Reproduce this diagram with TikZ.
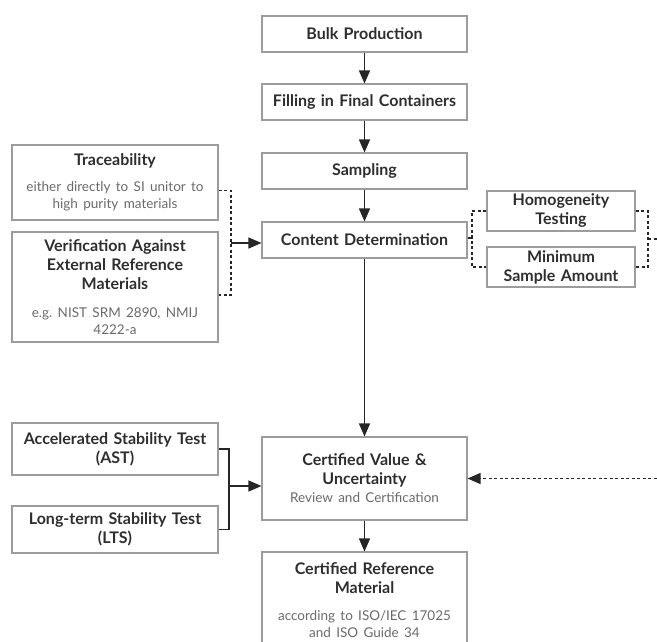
\documentclass[tikz,border=0pt]{standalone}
\usepackage{fontspec}
\setmainfont{Lato}
\usetikzlibrary{arrows.meta}
\definecolor{boxgray}{HTML}{9C9C9C}
\definecolor{titlegray}{HTML}{2E2E2E}
\definecolor{notegray}{HTML}{6A6A6A}
\newcommand{\notetext}[1]{{\fontsize{13.5}{17}\selectfont\mdseries\color{notegray}#1}}
\frenchspacing
\begin{document}
\begin{tikzpicture}[x=1pt, y=-1pt,
    box/.style={draw=boxgray, line width=1.1pt, minimum width=205pt, text width=200pt,
      align=center, inner sep=0pt, text=titlegray, font=\fontsize{16}{19}\selectfont\bfseries},
    link/.style={line width=1.4pt, draw=black!85},
    tip/.style={-{Triangle[length=13pt, width=11pt]}},
    dashline/.style={dash pattern=on 3pt off 2.5pt}]
  \useasboundingbox (0,0) rectangle (657,641);
  % main column
  \node[box, minimum height=36pt] (bulk) at (364.5,34) {Bulk Production};
  \node[box, minimum height=36pt] (fill) at (364.5,102) {Filling in Final Containers};
  \node[box, minimum height=36pt] (samp) at (364.5,171) {Sampling};
  \node[box, minimum height=36pt] (cont) at (364.5,240) {Content Determination};
  \node[box, minimum height=83pt] (cert) at (364.5,478.5)
    {Certified Value \&\\Uncertainty\\[-1pt]\notetext{Review and Certification}};
  \node[box, minimum height=96pt] (crm) at (364.5,600)
    {Certified Reference\\Material\\[8pt]\notetext{according to ISO/IEC 17025}\\[-2pt]\notetext{and ISO Guide 34}};
  % left inputs
  \node[box, minimum width=206pt, minimum height=75pt] (trace) at (115,182.5)
    {Traceability\\[7pt]\notetext{either directly to SI unitor to}\\[-2pt]\notetext{high purity materials}};
  \node[box, minimum width=206pt, minimum height=110pt] (verif) at (115,287)
    {Verification Against\\External Reference\\Materials\\[9pt]\notetext{e.g. NIST SRM 2890, NMIJ}\\[-2pt]\notetext{4222-a}};
  \node[box, minimum width=206pt, minimum height=52pt] (ast) at (115,449)
    {Accelerated Stability Test\\(AST)};
  \node[box, minimum width=206pt, minimum height=47pt] (lts) at (115,529.5)
    {Long-term Stability Test\\(LTS)};
  % right side
  \node[box, minimum width=148pt, text width=144pt, minimum height=40pt] (homog) at (561,211)
    {Homogeneity\\Testing};
  \node[box, minimum width=148pt, text width=144pt, minimum height=40pt] (minamt) at (561,267)
    {Minimum\\Sample Amount};
  \coordinate (tjoin) at (231,243);
  \coordinate (hjoin) at (472,238);
  \coordinate (rjoin) at (648,239);
  \coordinate (edgeA) at (662,239);
  \coordinate (edgeB) at (662,478.5);
  \coordinate (sjoin) at (229,486);
  % connectors
  \draw[link, tip] (bulk) -- (fill);
  \draw[link, tip] (fill) -- (samp);
  \draw[link, tip] (samp) -- (cont);
  \draw[link, tip] (cont) -- (cert);
  \draw[link, tip] (cert) -- (crm);
  \draw[link, dashline] ([yshift=-8pt]trace.east) -| (tjoin) |- ([yshift=-8pt]verif.east);
  \draw[link, tip] (tjoin) -- (tjoin -| cont.west);
  \draw[link, dashline] (cont.east |- hjoin) -- (hjoin);
  \draw[link, dashline] (homog.west) -| (hjoin) |- (minamt.west);
  \draw[link, dashline] (homog.east) -| (rjoin) |- (minamt.east);
  \draw[link, dashline] (rjoin) -- (edgeA);
  \draw[link, dashline, tip] (edgeB) -- (cert);
  \draw[link] (ast.east) -| (sjoin) |- (lts.east);
  \draw[link, tip] (sjoin) -- (sjoin -| cert.west);
\end{tikzpicture}
\end{document}
